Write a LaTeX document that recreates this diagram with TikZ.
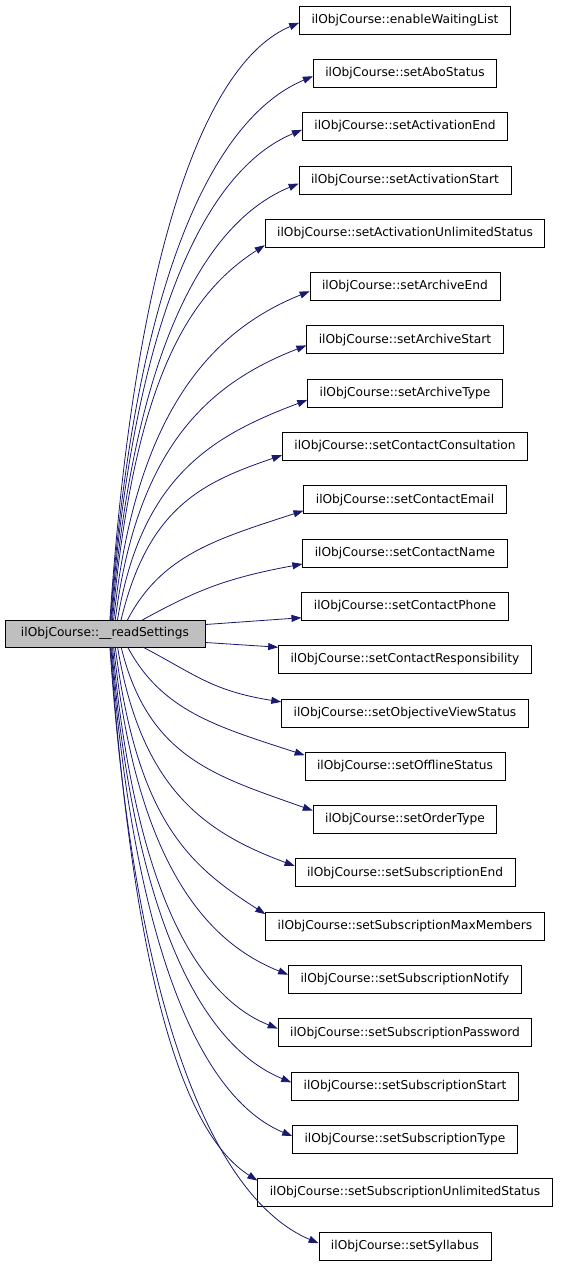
\documentclass[tikz,border=0pt]{standalone}
\usepackage{fontspec}
\newfontfamily\dvsans{DejaVu Sans}
\usetikzlibrary{arrows.meta, calc, positioning}
\definecolor{edgeblue}{HTML}{191970}
\definecolor{callergray}{HTML}{BFBFBF}
\tikzset{
  fnbox/.style={draw=black, line width=0.8pt, fill=white, font=\dvsans\fontsize{12.2}{14}\selectfont,
    minimum height=28pt, inner xsep=12pt, inner ysep=0pt},
  callbox/.style={fnbox, fill=callergray, minimum height=27pt, inner xsep=16pt},
  callarrow/.style={edgeblue, line width=0.8pt, -{Triangle[length=10pt,width=7pt]}},
}

\begin{document}
\begin{tikzpicture}[x=1pt, y=-1pt]
    \useasboundingbox (0,0) rectangle (563,1267);

    % Caller
    \node[callbox] (R) at (105,633.5) {ilObjCourse::\_\_readSettings};

    % Callees
    \foreach \lbl [count=\i from 0] in {enableWaitingList, setAboStatus, setActivationEnd,
        setActivationStart, setActivationUnlimitedStatus, setArchiveEnd, setArchiveStart,
        setArchiveType, setContactConsultation, setContactEmail, setContactName,
        setContactPhone, setContactResponsibility, setObjectiveViewStatus, setOfflineStatus,
        setOrderType, setSubscriptionEnd, setSubscriptionMaxMembers, setSubscriptionNotify,
        setSubscriptionPassword, setSubscriptionStart, setSubscriptionType,
        setSubscriptionUnlimitedStatus, setSyllabus} {
        \node[fnbox] (m\i) at (405,{20+53.3*\i}) {ilObjCourse::\lbl};
    }

    % Curved calls
    \foreach \i in {0,...,10,13,14,...,23} {
        \pgfmathsetmacro\yt{20+53.3*\i}
        \pgfmathsetmacro\dy{\yt-633.5}
        \pgfmathsetmacro\ady{abs(\dy)}
        \pgfmathsetmacro\sg{sign(\dy)}
        \pgfmathsetmacro\ys{633.5+13.5*\sg}
        \pgfmathsetmacro\xs{105+3000/\ady}
        \path (m\i.west); \pgfgetlastxy{\wx}{\wy}
        \pgfmathsetmacro\xw{\wx}
        \pgfmathsetmacro\len{0.5*(\xw-\xs)}
        \pgfmathsetmacro\tn{ifthenelse(\xw<270,0.8,min(0.45,\ady/250))}
        \pgfmathsetmacro\sh{ifthenelse(\xw<270,12,11*min(1,150/\ady))}
        \pgfmathsetmacro\cx{\xs+0.03*\ady+4000/\ady}
        \pgfmathsetmacro\cf{min(0.6,0.15+\ady/400)}
        \draw[callarrow] ($(R.center)+(\xs-105,\ys-633.5)$)
            .. controls (\cx, \ys+\cf*\dy) and (\xw-\len, \yt-\sg*\len*\tn)
            .. ($(m\i.west)+(0,-\sg*\sh)$);
    }

    % Straight calls
    \draw[callarrow] ($(R.east)+(0,-9)$) -- ($(m11.south west)+(0,-3)$);
    \draw[callarrow] ($(R.east)+(0,9)$) -- ($(m12.north west)+(0,2)$);
\end{tikzpicture}
\end{document}
